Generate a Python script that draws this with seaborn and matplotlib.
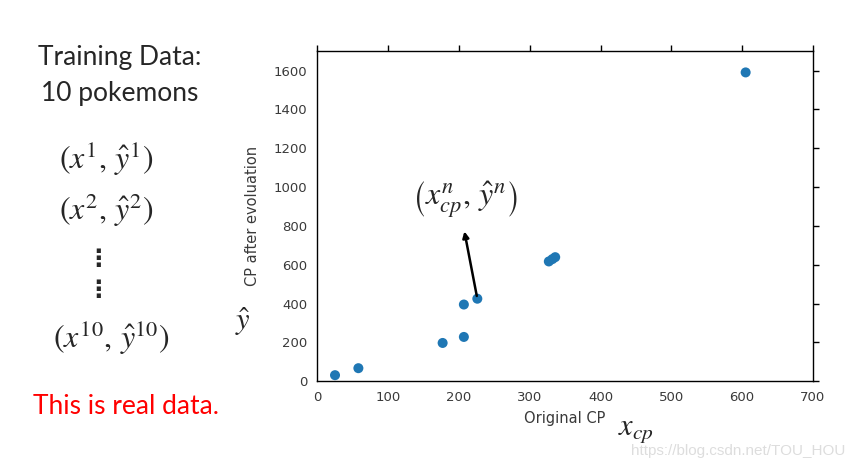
import matplotlib
matplotlib.use("Agg")
import matplotlib.pyplot as plt
import seaborn as sns
import pandas as pd

# training data: original CP vs CP after evolution
x_cp = [25, 58, 177, 207, 207, 226, 327, 332, 336, 605]
y_cp = [31, 67, 197, 228, 395, 425, 617, 629, 639, 1591]
x_ticks = [0, 100, 200, 300, 400, 500, 600, 700]
y_ticks = [0, 200, 400, 600, 800, 1000, 1200, 1400, 1600]

sns.set_style("white")
plt.rcParams["mathtext.fontset"] = "stix"
plt.rcParams["font.family"] = ["DejaVu Sans"]

df = pd.DataFrame({"x": x_cp, "y": y_cp})

fig = plt.figure(figsize=(8.53, 4.66), dpi=100)
ax = fig.add_axes([0.372, 0.182, 0.581, 0.708])
sns.scatterplot(data=df, x="x", y="y", color="#1f77b4", s=52, edgecolor="none", ax=ax)

ax.set_xlim(0, 700)
ax.set_ylim(0, 1700)
ax.set_xticks(x_ticks)
ax.set_yticks(y_ticks)
for s in ax.spines.values():
    s.set_color("black")
    s.set_linewidth(1.0)
ax.tick_params(direction="out", length=4.3, width=1, pad=3, top=True, right=True,
               labelsize=9.5, labelcolor="#3a3a3a", color="black")
ax.set_xlabel("Original CP", fontsize=10.5, color="#3a3a3a", labelpad=5)
ax.set_ylabel("CP after evoluation", fontsize=10.5, color="#3a3a3a", labelpad=10)

# annotation on one point
ax.annotate("", xy=(207, 786), xytext=(x_cp[5], y_cp[5]),
            arrowprops=dict(arrowstyle="-|>", color="black", lw=1.8, mutation_scale=9))
ax.text(208, 935, r"$\left(x_{cp}^{n},\,\hat{y}^{n}\right)$", fontsize=23, ha="center", va="center")

# left side text
side = ["Lato", "DejaVu Sans"]
fig.text(0.140, 0.876, "Training Data:", fontsize=19, ha="center", va="center", family=side)
fig.text(0.140, 0.800, "10 pokemons", fontsize=19, ha="center", va="center", family=side)
fig.text(0.124, 0.660, r"$(x^{1},\,\hat{y}^{1})$", fontsize=23, ha="center", va="center")
fig.text(0.124, 0.549, r"$(x^{2},\,\hat{y}^{2})$", fontsize=23, ha="center", va="center")
fig.text(0.115, 0.445, "\u22ee", fontsize=17, ha="center", va="center", fontweight="bold")
fig.text(0.115, 0.378, "\u22ee", fontsize=17, ha="center", va="center", fontweight="bold")
fig.text(0.130, 0.274, r"$(x^{10},\,\hat{y}^{10})$", fontsize=23, ha="center", va="center")
fig.text(0.148, 0.127, "This is real data.", fontsize=19, ha="center", va="center", color="red",
         family=side)

fig.text(0.285, 0.310, r"$\hat{y}$", fontsize=22, ha="center", va="center")
fig.text(0.746, 0.076, r"$x_{cp}$", fontsize=22, ha="center", va="center")
fig.text(0.865, 0.032, "https://blog.csdn.net/TOU_HOU", fontsize=11, ha="center", va="center",
         color="#dddddd", family=["Liberation Sans", "DejaVu Sans"])

fig.savefig("out.png", dpi=100)
